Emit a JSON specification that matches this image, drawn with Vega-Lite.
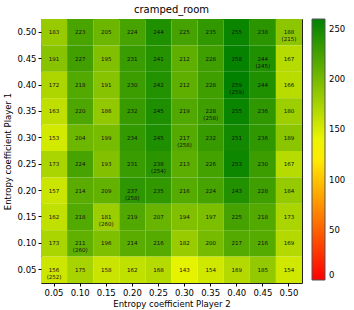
{
  "$schema": "https://vega.github.io/schema/vega-lite/v6.json",
  "width": 261,
  "height": 264,
  "autosize": {"type": "none"},
  "padding": {"left": 41, "top": 19, "right": 52, "bottom": 27},
  "title": {"text": "cramped_room", "fontSize": 10, "font": "DejaVu Sans", "fontWeight": "normal", "offset": 4, "color": "#000"},
  "config": {
    "view": {"stroke": "#222", "strokeWidth": 1},
    "font": "DejaVu Sans",
    "axis": {"labelFont": "DejaVu Sans", "titleFont": "DejaVu Sans", "labelFontSize": 8.5, "titleFontSize": 8.5, "titleFontWeight": "normal", "labelColor": "#000", "titleColor": "#000", "tickColor": "#000", "domain": false, "grid": false, "tickSize": 3}
  },
  "data": {"values": [
    {"p1":"0.50","p2":"0.05","value":183,"label":"183"},
    {"p1":"0.50","p2":"0.10","value":223,"label":"223"},
    {"p1":"0.50","p2":"0.15","value":205,"label":"205"},
    {"p1":"0.50","p2":"0.20","value":224,"label":"224"},
    {"p1":"0.50","p2":"0.25","value":244,"label":"244"},
    {"p1":"0.50","p2":"0.30","value":225,"label":"225"},
    {"p1":"0.50","p2":"0.35","value":235,"label":"235"},
    {"p1":"0.50","p2":"0.40","value":255,"label":"255"},
    {"p1":"0.50","p2":"0.45","value":238,"label":"238"},
    {"p1":"0.50","p2":"0.50","value":188,"label":"188\n(215)"},
    {"p1":"0.45","p2":"0.05","value":191,"label":"191"},
    {"p1":"0.45","p2":"0.10","value":227,"label":"227"},
    {"p1":"0.45","p2":"0.15","value":195,"label":"195"},
    {"p1":"0.45","p2":"0.20","value":231,"label":"231"},
    {"p1":"0.45","p2":"0.25","value":241,"label":"241"},
    {"p1":"0.45","p2":"0.30","value":212,"label":"212"},
    {"p1":"0.45","p2":"0.35","value":228,"label":"228"},
    {"p1":"0.45","p2":"0.40","value":258,"label":"258"},
    {"p1":"0.45","p2":"0.45","value":244,"label":"244\n(245)"},
    {"p1":"0.45","p2":"0.50","value":167,"label":"167"},
    {"p1":"0.40","p2":"0.05","value":172,"label":"172"},
    {"p1":"0.40","p2":"0.10","value":218,"label":"218"},
    {"p1":"0.40","p2":"0.15","value":191,"label":"191"},
    {"p1":"0.40","p2":"0.20","value":230,"label":"230"},
    {"p1":"0.40","p2":"0.25","value":242,"label":"242"},
    {"p1":"0.40","p2":"0.30","value":212,"label":"212"},
    {"p1":"0.40","p2":"0.35","value":228,"label":"228"},
    {"p1":"0.40","p2":"0.40","value":259,"label":"259\n(259)"},
    {"p1":"0.40","p2":"0.45","value":244,"label":"244"},
    {"p1":"0.40","p2":"0.50","value":166,"label":"166"},
    {"p1":"0.35","p2":"0.05","value":163,"label":"163"},
    {"p1":"0.35","p2":"0.10","value":220,"label":"220"},
    {"p1":"0.35","p2":"0.15","value":186,"label":"186"},
    {"p1":"0.35","p2":"0.20","value":232,"label":"232"},
    {"p1":"0.35","p2":"0.25","value":245,"label":"245"},
    {"p1":"0.35","p2":"0.30","value":219,"label":"219"},
    {"p1":"0.35","p2":"0.35","value":228,"label":"228\n(258)"},
    {"p1":"0.35","p2":"0.40","value":255,"label":"255"},
    {"p1":"0.35","p2":"0.45","value":236,"label":"236"},
    {"p1":"0.35","p2":"0.50","value":180,"label":"180"},
    {"p1":"0.30","p2":"0.05","value":153,"label":"153"},
    {"p1":"0.30","p2":"0.10","value":204,"label":"204"},
    {"p1":"0.30","p2":"0.15","value":199,"label":"199"},
    {"p1":"0.30","p2":"0.20","value":234,"label":"234"},
    {"p1":"0.30","p2":"0.25","value":245,"label":"245"},
    {"p1":"0.30","p2":"0.30","value":217,"label":"217\n(258)"},
    {"p1":"0.30","p2":"0.35","value":232,"label":"232"},
    {"p1":"0.30","p2":"0.40","value":251,"label":"251"},
    {"p1":"0.30","p2":"0.45","value":236,"label":"236"},
    {"p1":"0.30","p2":"0.50","value":189,"label":"189"},
    {"p1":"0.25","p2":"0.05","value":173,"label":"173"},
    {"p1":"0.25","p2":"0.10","value":224,"label":"224"},
    {"p1":"0.25","p2":"0.15","value":193,"label":"193"},
    {"p1":"0.25","p2":"0.20","value":231,"label":"231"},
    {"p1":"0.25","p2":"0.25","value":238,"label":"238\n(254)"},
    {"p1":"0.25","p2":"0.30","value":213,"label":"213"},
    {"p1":"0.25","p2":"0.35","value":226,"label":"226"},
    {"p1":"0.25","p2":"0.40","value":253,"label":"253"},
    {"p1":"0.25","p2":"0.45","value":230,"label":"230"},
    {"p1":"0.25","p2":"0.50","value":167,"label":"167"},
    {"p1":"0.20","p2":"0.05","value":157,"label":"157"},
    {"p1":"0.20","p2":"0.10","value":214,"label":"214"},
    {"p1":"0.20","p2":"0.15","value":209,"label":"209"},
    {"p1":"0.20","p2":"0.20","value":237,"label":"237\n(258)"},
    {"p1":"0.20","p2":"0.25","value":235,"label":"235"},
    {"p1":"0.20","p2":"0.30","value":216,"label":"216"},
    {"p1":"0.20","p2":"0.35","value":224,"label":"224"},
    {"p1":"0.20","p2":"0.40","value":243,"label":"243"},
    {"p1":"0.20","p2":"0.45","value":228,"label":"228"},
    {"p1":"0.20","p2":"0.50","value":184,"label":"184"},
    {"p1":"0.15","p2":"0.05","value":162,"label":"162"},
    {"p1":"0.15","p2":"0.10","value":218,"label":"218"},
    {"p1":"0.15","p2":"0.15","value":181,"label":"181\n(260)"},
    {"p1":"0.15","p2":"0.20","value":219,"label":"219"},
    {"p1":"0.15","p2":"0.25","value":207,"label":"207"},
    {"p1":"0.15","p2":"0.30","value":194,"label":"194"},
    {"p1":"0.15","p2":"0.35","value":197,"label":"197"},
    {"p1":"0.15","p2":"0.40","value":225,"label":"225"},
    {"p1":"0.15","p2":"0.45","value":218,"label":"218"},
    {"p1":"0.15","p2":"0.50","value":173,"label":"173"},
    {"p1":"0.10","p2":"0.05","value":173,"label":"173"},
    {"p1":"0.10","p2":"0.10","value":211,"label":"211\n(260)"},
    {"p1":"0.10","p2":"0.15","value":196,"label":"196"},
    {"p1":"0.10","p2":"0.20","value":214,"label":"214"},
    {"p1":"0.10","p2":"0.25","value":216,"label":"216"},
    {"p1":"0.10","p2":"0.30","value":182,"label":"182"},
    {"p1":"0.10","p2":"0.35","value":200,"label":"200"},
    {"p1":"0.10","p2":"0.40","value":217,"label":"217"},
    {"p1":"0.10","p2":"0.45","value":216,"label":"216"},
    {"p1":"0.10","p2":"0.50","value":169,"label":"169"},
    {"p1":"0.05","p2":"0.05","value":156,"label":"156\n(252)"},
    {"p1":"0.05","p2":"0.10","value":175,"label":"175"},
    {"p1":"0.05","p2":"0.15","value":158,"label":"158"},
    {"p1":"0.05","p2":"0.20","value":162,"label":"162"},
    {"p1":"0.05","p2":"0.25","value":168,"label":"168"},
    {"p1":"0.05","p2":"0.30","value":143,"label":"143"},
    {"p1":"0.05","p2":"0.35","value":154,"label":"154"},
    {"p1":"0.05","p2":"0.40","value":169,"label":"169"},
    {"p1":"0.05","p2":"0.45","value":185,"label":"185"},
    {"p1":"0.05","p2":"0.50","value":154,"label":"154"}
  ]},
  "encoding": {
    "x": {"field": "p2", "type": "ordinal", "sort": "ascending", "title": "Entropy coefficient Player 2", "scale": {"paddingInner": 0, "paddingOuter": 0}, "axis": {"labelAngle": 0, "titlePadding": 3, "labelPadding": 2}},
    "y": {"field": "p1", "type": "ordinal", "sort": "descending", "title": "Entropy coefficient Player 1", "scale": {"paddingInner": 0, "paddingOuter": 0}, "axis": {"titlePadding": 5, "labelPadding": 2}}
  },
  "layer": [
    {
      "mark": {"type": "rect"},
      "encoding": {
        "color": {"field": "value", "type": "quantitative",
          "scale": {"domain": [0, 130, 260], "range": ["#ff0000", "#ffff00", "#008000"], "interpolate": "rgb"},
          "legend": {"title": null, "type": "gradient", "direction": "vertical", "orient": "right", "offset": 10, "gradientLength": 261, "gradientThickness": 13, "gradientStrokeColor": "#555", "gradientStrokeWidth": 1, "values": [0, 50, 100, 150, 200, 250], "labelFontSize": 8.5, "labelColor": "#000", "labelOffset": 4, "labelFont": "DejaVu Sans"}}
      }
    },
    {
      "mark": {"type": "text", "fontSize": 5.5, "lineBreak": "\n", "lineHeight": 7, "color": "#111", "font": "DejaVu Sans", "baseline": "middle"},
      "encoding": {"text": {"field": "label"}}
    }
  ]
}
